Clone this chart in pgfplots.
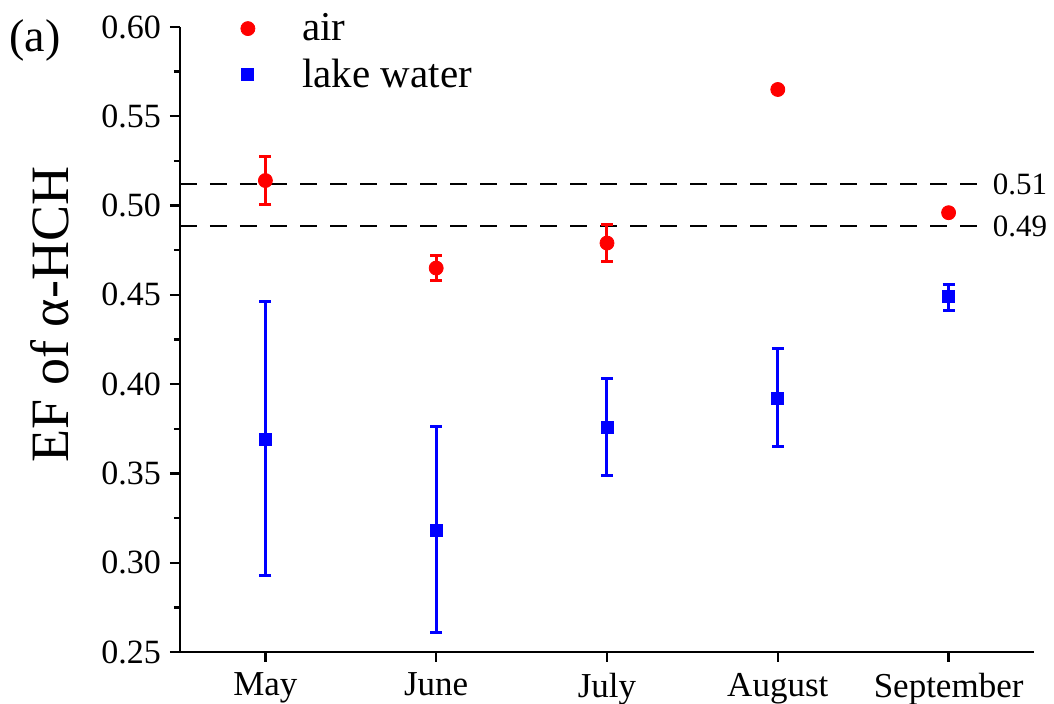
\documentclass[border=0pt]{standalone}
\usepackage{fontspec}
\setmainfont{Liberation Serif}
\usepackage{pgfplots}
\usepackage{pgfplotstable}
\pgfplotsset{compat=1.18}
\usetikzlibrary{calc}
\definecolor{pred}{RGB}{255,0,0}
\definecolor{pblue}{RGB}{0,0,255}
\pgfplotstableread{
x y e
0 0.514 0.0135
1 0.465 0.007
2 0.479 0.0105
}\airerr
\pgfplotstableread{
x y
3 0.565
4 0.496
}\airnoerr
\pgfplotstableread{
x y ep em
0 0.369 0.077 0.076
1 0.318 0.058 0.057
2 0.376 0.027 0.027
3 0.392 0.028 0.027
4 0.449 0.007 0.0075
}\water
\begin{document}
\begin{tikzpicture}
\begin{axis}[
  scale only axis, width=427pt, height=312.5pt,
  xmin=-0.5, xmax=4.5, ymin=0.25, ymax=0.60,
  axis x line*=bottom, axis y line*=left,
  axis line style={line width=1.2pt, -},
  xtick={0,1,2,3,4},
  xticklabels={May,June,July,August,September},
  ytick={0.25,0.30,0.35,0.40,0.45,0.50,0.55,0.60},
  minor y tick num=1,
  tick align=outside,
  major tick length=5pt, minor tick length=3pt,
  every tick/.style={line width=1.2pt, black},
  /pgf/number format/fixed, /pgf/number format/fixed zerofill, /pgf/number format/precision=2,
  /pgf/number format/assume math mode=true,
  y tick label style={font=\fontsize{17}{20}\selectfont, xshift=-1pt},
  x tick label style={font=\fontsize{17.5}{20}\selectfont, yshift=-2pt},
  ylabel={EF of α-HCH},
  ylabel style={font=\fontsize{27}{30}\selectfont, at={(axis description cs:-0.152,0.54)}, anchor=center},
  clip=false,
  legend style={draw=none, fill=none, at={(axis description cs:0.02,1.035)}, anchor=north west,
    font=\fontsize{20.5}{23}\selectfont, row sep=3.5pt, cells={anchor=west}},
  legend image code/.code={\path (0pt,0pt) (47pt,0pt); \draw[#1] plot coordinates {(22pt,0pt)};},
]
\draw[black, line width=1.3pt, dash pattern=on 8.5pt off 6.5pt] (axis cs:-0.5,0.512) -- (axis cs:4.24,0.512)
  node[anchor=west, inner sep=1pt, font=\fontsize{15.5}{17}\selectfont] {0.51};
\draw[black, line width=1.3pt, dash pattern=on 8.5pt off 6.5pt] (axis cs:-0.5,0.4886) -- (axis cs:4.24,0.4886)
  node[anchor=west, inner sep=1pt, font=\fontsize{15.5}{17}\selectfont] {0.49};
\addplot[only marks, mark=*, mark size=3.5pt, color=pred,
  error bars/.cd, y dir=both, y explicit,
  error bar style={line width=1.5pt, pred},
  error mark options={rotate=90, mark size=3pt, line width=1.5pt, pred}]
  table[x=x, y=y, y error=e] {\airerr};
\addlegendentry{air}
\addplot[only marks, mark=*, mark size=3.5pt, color=pred, forget plot] table[x=x, y=y] {\airnoerr};
\addplot[only marks, mark=square*, mark size=3pt, color=pblue,
  error bars/.cd, y dir=both, y explicit,
  error bar style={line width=1.5pt, pblue},
  error mark options={rotate=90, mark size=3pt, line width=1.5pt, pblue}]
  table[x=x, y=y, y error plus=ep, y error minus=em] {\water};
\addlegendentry{lake water}
\end{axis}
\node[font=\fontsize{23}{26}\selectfont] at ($(current axis.north west)+(-72.5pt,-6.5pt)$) {(a)};
\pgfresetboundingbox
\path ($(current axis.south west)+(-90pt,-26pt)$) rectangle ($(current axis.north east)+(10pt,13.5pt)$);
\end{tikzpicture}
\end{document}
